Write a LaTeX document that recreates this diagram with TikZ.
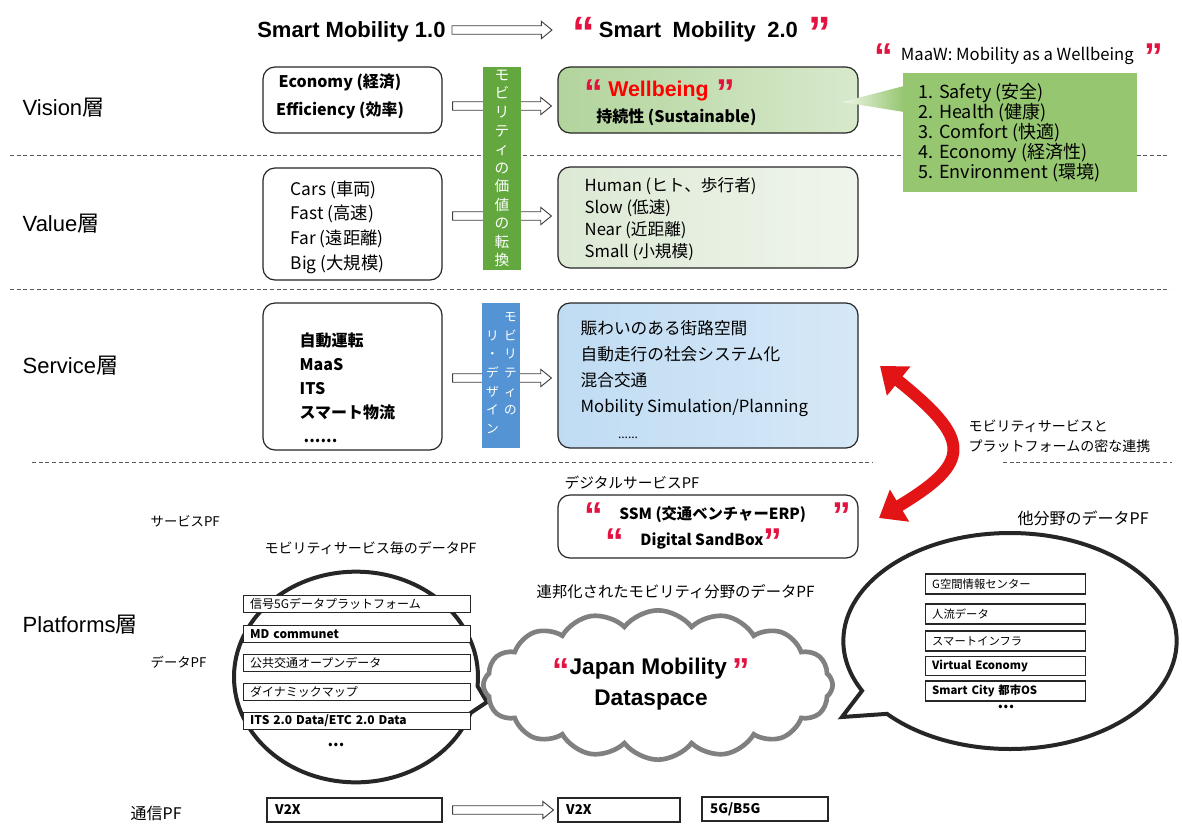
\documentclass[tikz,border=0pt]{standalone}
\usepackage{fontspec}
\setmainfont{Noto Sans CJK JP}
\newfontfamily\ls{Liberation Sans}
\usetikzlibrary{fit,shapes.symbols,shapes.callouts,calc,arrows.meta}
\definecolor{barG}{RGB}{98,168,62}
\definecolor{barB}{RGB}{84,148,212}
\definecolor{callG}{RGB}{150,198,112}
\definecolor{qred}{RGB}{228,18,64}
\definecolor{arrRed}{RGB}{226,20,22}
\definecolor{cloudGray}{RGB}{128,128,128}
\definecolor{visL}{RGB}{178,212,156}
\definecolor{visR}{RGB}{216,233,204}
\definecolor{valL}{RGB}{220,233,212}
\definecolor{valR}{RGB}{240,245,236}
\definecolor{serL}{RGB}{192,220,243}
\definecolor{serR}{RGB}{214,232,247}
\newcommand\qo[1]{{\color{qred}\ls\bfseries\fontsize{#1}{#1}\selectfont\raisebox{-0.25em}[0.45em][0pt]{“}}}
\newcommand\qc[1]{{\color{qred}\ls\bfseries\fontsize{#1}{#1}\selectfont\raisebox{-0.25em}[0.45em][0pt]{”}}}
\newcommand\harrow[2]{\path[draw=black!75, fill=white, line width=0.7pt] let \p1=(#1), \p2=(#2) in
  (\x1,\y1+3.2pt) -- (\x2-8pt,\y1+3.2pt) -- (\x2-8pt,\y1+6.5pt) -- (\x2,\y1) -- (\x2-8pt,\y1-6.5pt) -- (\x2-8pt,\y1-3.2pt) -- (\x1,\y1-3.2pt) -- cycle;}
\begin{document}
\begin{tikzpicture}[x=0.75pt,y=-0.75pt,
  lbox/.style={draw=black!85, line width=0.9pt, rounded corners=9pt, inner sep=0pt},
  sqbox/.style={draw=black!85, line width=0.8pt, inner sep=0pt},
  dline/.style={black!65, line width=0.6pt, dash pattern=on 3pt off 2pt},
  lbx/.style={draw=black!85, fill=white, line width=0.8pt, anchor=west, inner xsep=5pt, inner ysep=0pt, minimum height=12.75pt, text width=160pt, font=\fontsize{9}{10}\selectfont},
  rbx/.style={lbx, text width=110pt, minimum height=15pt, font=\fontsize{8.5}{10}\selectfont},
  layer/.style={anchor=west, font=\fontsize{16.5}{20}\selectfont},
  lab/.style={anchor=west, font=\fontsize{10}{12}\selectfont},
  redarr/.style={line width=9pt, arrRed, {Triangle[length=18pt,width=27pt]}-{Triangle[length=18pt,width=27pt]}},
  bubble/.style={ellipse callout, draw=black!85, fill=white, line width=3pt, inner sep=0pt},
]
\useasboundingbox (0,0) rectangle (1182,826);
\fill[white] (0,0) rectangle (1182,826);

% dashed layer separators
\draw[dline] (10,155) -- (1170,155);
\draw[dline] (10,289) -- (1170,289);
\draw[dline] (32,462) -- (873,462);
\draw[dline] (1003,462) -- (1172,462);

% title
\node[anchor=base west, inner sep=0pt, font=\ls\bfseries\fontsize{16.5}{20}\selectfont] (sm1) at (257,37) {Smart Mobility 1.0};
\node[anchor=base west, inner sep=0pt, font=\ls\bfseries\fontsize{16.5}{20}\selectfont] (sm2) at (572,37) {\qo{34}\hspace{3pt}Smart\hspace{4pt} Mobility\hspace{4pt} 2.0\hspace{8pt}\qc{34}};
\coordinate (a0s) at (452,30);
\coordinate (a0e) at (552,30);
\harrow{a0s}{a0e}

% layer labels
\node[layer] (lv) at (18,108) {{\ls Vision}層};
\node[layer] (lva) at (18,224) {{\ls Value}層};
\node[layer] (ls) at (18,366) {{\ls Service}層};
\node[layer] (lp) at (18,625) {{\ls Platforms}層};

% left boxes
\node[lbox, fit={(263,67)(442,133)}] (vl) {};
\node[lbox, fit={(263,168)(442,280)}] (val) {};
\node[lbox, fit={(263,303)(442,450)}] (sl) {};
% right boxes
\node[lbox, fit={(558,67)(858,133)}, left color=visL, right color=visR] (vr) {};
\node[lbox, fit={(558,167)(858,268)}, left color=valL, right color=valR] (var) {};
\node[lbox, fit={(558,303)(858,448)}, left color=serL, right color=serR] (sr) {};

% hollow arrows between layers
\coordinate (a1s) at ($(vl.east)+(10,6)$);
\coordinate (a1e) at ($(vr.west)+(-6,6)$);
\harrow{a1s}{a1e}
\coordinate (a2s) at ($(val.east)+(10,-8)$);
\coordinate (a2e) at ($(var.west)+(-6,-1.5)$);
\harrow{a2s}{a2e}
\coordinate (a3s) at ($(sl.east)+(10,1.5)$);
\coordinate (a3e) at ($(sr.west)+(-6,2.5)$);
\harrow{a3s}{a3e}

% vertical bars
\node[fit={(483,67)(521,270)}, fill=barG, inner sep=0pt] (gbar) {};
\node[font=\fontsize{11}{13.9}\selectfont, text=white, align=center, inner sep=0pt] (gtxt) at (gbar.center) {モ\\ビ\\リ\\テ\\ィ\\の\\価\\値\\の\\転\\換};
\node[fit={(482,303)(520,448)}, fill=barB, inner sep=0pt] (bbar) {};
\node[font=\fontsize{9.5}{14}\selectfont, text=white, align=center, inner sep=0pt] (btxt1) at (510.5,364) {モ\\ビ\\リ\\テ\\ィ\\の};
\node[font=\fontsize{9.5}{14}\selectfont, text=white, align=center, inner sep=0pt] (btxt2) at (492.5,382) {リ\\・\\デ\\ザ\\イ\\ン};

% vision texts
\node[font=\bfseries\fontsize{12}{21}\selectfont, align=center] (vltxt) at (340,96) {Economy (経済)\\Efficiency (効率)};
\node[anchor=base west, inner sep=0pt] (wb) at (584,96) {\qo{28}\hspace{4pt}{\ls\bfseries\color{red}\fontsize{16}{18}\selectfont Wellbeing}\hspace{6pt}\qc{28}};
\node[anchor=base west, inner sep=0pt, font=\bfseries\fontsize{12}{14}\selectfont] (sus) at (596,122) {持続性 (Sustainable)};

% value texts
\node[anchor=west, align=left, font=\fontsize{13}{18.5}\selectfont] (valtxt) at (286,227) {Cars (車両)\\Fast (高速)\\Far (遠距離)\\Big (大規模)};
\node[anchor=west, align=left, font=\fontsize{12.5}{16.5}\selectfont] (vartxt) at (580,219) {Human (ヒト、歩行者)\\Slow (低速)\\Near (近距離)\\Small (小規模)};

% service texts
\node[anchor=west, align=left, font=\bfseries\fontsize{12}{18}\selectfont] (sltxt) at (295,388) {自動運転\\MaaS\\ITS\\スマート物流\\\hspace{3pt}......};
\node[anchor=west, align=left, font=\fontsize{12.5}{19.5}\selectfont] (srtxt) at (576,380) {賑わいのある街路空間\\自動走行の社会システム化\\混合交通\\Mobility Simulation/Planning\\\hspace{28pt}{\fontsize{9}{10}\selectfont ......}};

% MaaW callout
\shade[left color=callG!15, right color=callG] (842,102) -- (904,86) -- (904,112) -- cycle;
\node[fit={(903,73)(1137,192)}, fill=callG, inner sep=0pt] (maaw) {};
\node[anchor=west, align=left, font=\fontsize{13.5}{15}\selectfont] (maawtxt) at (914,133) {1. Safety (安全)\\2. Health (健康)\\3. Comfort (快適)\\4. Economy (経済性)\\5. Environment (環境)};
\node[anchor=base west, inner sep=0pt, font=\fontsize{12.5}{14}\selectfont] (maawh) at (874,60) {\qo{28}\hspace{6pt}MaaW: Mobility as a Wellbeing\hspace{8pt}\qc{28}};

% red double arrow
\coordinate (rt) at (880,366);
\coordinate (rb) at (879,518);
\draw[redarr] (rt) .. controls (972,440) and (972,462) .. (rb);
\node[anchor=west, align=left, font=\fontsize{10.5}{15}\selectfont] (rtxt) at (964,436) {モビリティサービスと\\プラットフォームの密な連携};

% platform labels
\node[lab] (spf) at (146,521) {サービスPF};
\node[lab] (dpf) at (146,662) {データPF};
\node[anchor=west, font=\fontsize{12}{14}\selectfont] (cpf) at (126,813) {通信PF};
\node[anchor=west, font=\fontsize{11}{13}\selectfont] (dspf) at (560,483) {デジタルサービスPF};
\node[anchor=west, font=\fontsize{12}{14}\selectfont] (opf) at (1013,518) {他分野のデータPF};
\node[anchor=west, font=\fontsize{10.5}{12}\selectfont] (mpf) at (260,548) {モビリティサービス毎のデータPF};
\node[anchor=west, font=\fontsize{11.5}{13}\selectfont] (fpf) at (532,592) {連邦化されたモビリティ分野のデータPF};

% digital service box
\node[lbox, fit={(558,495)(858,558)}] (ds) {};
\node[anchor=base, font=\bfseries\fontsize{11.5}{13}\selectfont, inner sep=0pt] (ds1) at (718,519) {\qo{28}\hspace{12pt}SSM (交通ベンチャーERP)\hspace{20pt}\qc{28}};
\node[anchor=base, font=\bfseries\fontsize{11.5}{13}\selectfont, inner sep=0pt] (ds2) at (694,545) {\qo{28}\hspace{12pt}Digital SandBox\qc{28}};

% bubbles
\node[bubble, minimum width=183pt, minimum height=158pt, callout absolute pointer={(487,702)}] (lbub) at (356,677) {};
\node[bubble, minimum width=250pt, minimum height=162pt, callout absolute pointer={(842,717)}] (rbub) at (1010,641) {};

% cloud
\node[cloud, cloud puffs=16, cloud puff arc=105, aspect=2.3, draw=cloudGray, line width=3.5pt, fill=white, minimum width=262pt, minimum height=112pt, inner sep=0pt] (jmd) at (658,685) {};
\node[anchor=base, inner sep=0pt] (jmd1) at (651,674) {\qo{26}{\ls\bfseries\fontsize{17}{20}\selectfont Japan Mobility}\hspace{4pt}\qc{26}};
\node[anchor=base, inner sep=0pt, font=\ls\bfseries\fontsize{17}{20}\selectfont] (jmd2) at (651,705) {Dataspace};

% left data list
\node[lbx] (l1) at (243,604) {信号5Gデータプラットフォーム};
\node[lbx, font=\bfseries\fontsize{9}{10}\selectfont] (l2) at (243,634) {MD communet};
\node[lbx] (l3) at (243,663) {公共交通オープンデータ};
\node[lbx] (l4) at (243,692) {ダイナミックマップ};
\node[lbx, font=\bfseries\fontsize{9}{10}\selectfont] (l5) at (243,721) {ITS 2.0 Data/ETC 2.0 Data};
\node[font=\bfseries\fontsize{12}{12}\selectfont] (l6) at (336,745) {...};

% right data list
\node[rbx] (r1) at (925,584) {G空間情報センター};
\node[rbx] (r2) at (925,614) {人流データ};
\node[rbx] (r3) at (925,641) {スマートインフラ};
\node[rbx, minimum height=14pt, font=\bfseries\fontsize{8.5}{10}\selectfont] (r4) at (925,666) {Virtual Economy};
\node[rbx, font=\bfseries\fontsize{8.5}{10}\selectfont] (r5) at (925,691) {Smart City 都市OS};
\node[font=\bfseries\fontsize{12}{12}\selectfont] (r6) at (1006,707) {...};

% communication PF
\node[sqbox, fit={(267,798)(442,822)}] (v2a) {};
\node[sqbox, fit={(558,798)(680,822)}] (v2b) {};
\node[sqbox, fit={(702,797)(828,821)}] (g5) {};
\node[anchor=west, font=\bfseries\fontsize{10}{12}\selectfont] (v2at) at ($(v2a.west)+(4,0)$) {V2X};
\node[anchor=west, font=\bfseries\fontsize{10}{12}\selectfont] (v2bt) at ($(v2b.west)+(4,0)$) {V2X};
\node[anchor=west, font=\bfseries\fontsize{10}{12}\selectfont] (g5t) at ($(g5.west)+(4,0)$) {5G/B5G};
\coordinate (a4s) at ($(v2a.east)+(10,0)$);
\coordinate (a4e) at ($(v2b.west)+(-4,0)$);
\harrow{a4s}{a4e}
\end{tikzpicture}
\end{document}
